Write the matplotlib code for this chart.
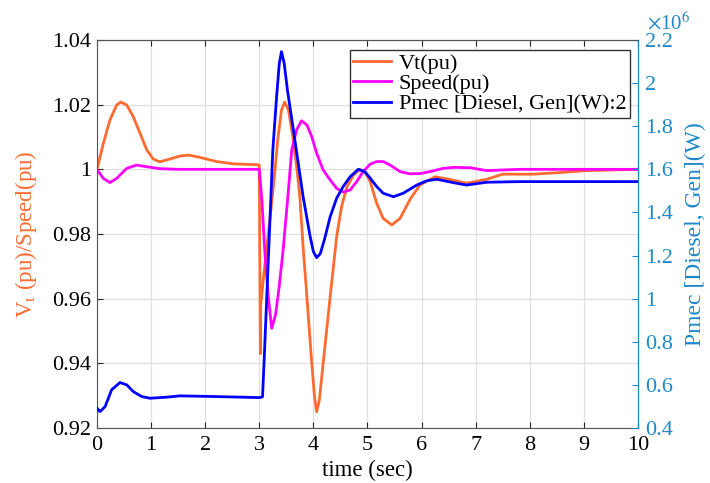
import matplotlib
matplotlib.use('Agg')
import matplotlib.pyplot as plt
from matplotlib.ticker import FuncFormatter

plt.rcParams['font.family'] = ['Liberation Serif', 'DejaVu Serif']
plt.rcParams['mathtext.fontset'] = 'stix'

# values
t_vt = [0, 0.117, 0.24, 0.364, 0.44, 0.55, 0.67, 0.795, 0.92, 1.04, 1.16, 1.35,
        1.53, 1.69, 1.9, 2.21, 2.52, 2.98, 3.0, 3.01, 3.02, 3.025, 3.05, 3.1,
        3.2, 3.28, 3.34, 3.41, 3.47, 3.54, 3.63, 3.69, 3.75, 3.81, 3.88, 3.97,
        4.02, 4.06, 4.11, 4.18, 4.31, 4.43, 4.52, 4.62, 4.74, 4.86, 4.95, 5.05,
        5.17, 5.29, 5.45, 5.6, 5.79, 5.97, 6.25, 6.52, 6.83, 7.2, 7.5, 8.06, 8.56,
        9.05, 10]
vt = [1.0, 1.008, 1.0153, 1.0199, 1.0208, 1.0199, 1.0163, 1.0112, 1.006, 1.0032,
      1.0023, 1.0032, 1.0041, 1.0044, 1.0037, 1.0024, 1.0017, 1.0014, 1.0013,
      0.970, 0.943, 0.958, 0.962, 0.970, 0.985, 0.998, 1.009, 1.0183, 1.0208,
      1.0183, 1.009, 1.0008, 0.9915, 0.976, 0.9606, 0.940, 0.9297, 0.925, 0.9286,
      0.940, 0.9606, 0.9792, 0.9884, 0.9946, 0.9982, 1.0, 0.9993, 0.9962, 0.9895,
      0.9848, 0.9828, 0.9848, 0.9908, 0.9952, 0.9977, 0.9969, 0.9957, 0.9969,
      0.9985, 0.9985, 0.999, 0.9996, 1.0]

t_sp = [0, 0.117, 0.24, 0.364, 0.55, 0.73, 0.92, 1.16, 1.5, 3.0, 3.05, 3.1, 3.17,
        3.23, 3.3, 3.37, 3.44, 3.52, 3.6, 3.69, 3.78, 3.88, 3.97, 4.06, 4.18, 4.31,
        4.43, 4.55, 4.68, 4.8, 4.92, 5.05, 5.17, 5.29, 5.42, 5.6, 5.79, 5.97, 6.16,
        6.4, 6.59, 6.9, 7.2, 7.82, 10]
speed = [1.0, 0.9972, 0.9959, 0.9972, 1.0003, 1.0013, 1.0008, 1.0002, 1.0, 1.0,
         0.990, 0.975, 0.960, 0.9508, 0.955, 0.964, 0.975, 0.990, 1.006, 1.0122,
         1.015, 1.0137, 1.0101, 1.005, 0.9998, 0.9967, 0.9941, 0.993, 0.9936,
         0.9962, 0.9993, 1.0016, 1.0024, 1.0024, 1.0013, 0.9993, 0.9986, 0.9987,
         0.9993, 1.0003, 1.0006, 1.0005, 0.9996, 1.0, 1.0]

# Pmec in units of 1e6 W
t_pm = [0, 0.055, 0.15, 0.27, 0.425, 0.55, 0.67, 0.826, 0.98, 1.29, 1.53, 2.15,
        3.01, 3.06, 3.09, 3.17, 3.25, 3.32, 3.37, 3.41, 3.46, 3.52, 3.63, 3.72,
        3.81, 3.94, 4.0, 4.06, 4.13, 4.21, 4.31, 4.43, 4.55, 4.68, 4.83, 4.95,
        5.05, 5.17, 5.29, 5.48, 5.66, 5.91, 6.1, 6.28, 6.55, 6.83, 7.2, 7.82, 10]
pmec = [0.492, 0.476, 0.499, 0.577, 0.611, 0.600, 0.569, 0.546, 0.538, 0.543,
        0.549, 0.546, 0.541, 0.545, 0.716, 1.2, 1.69, 1.937, 2.092, 2.146, 2.092,
        1.968, 1.783, 1.628, 1.473, 1.288, 1.218, 1.19, 1.21, 1.28, 1.38, 1.466,
        1.52, 1.566, 1.60, 1.589, 1.559, 1.52, 1.489, 1.473, 1.489, 1.527, 1.547,
        1.554, 1.540, 1.527, 1.540, 1.543, 1.543]

c_vt = '#FF6A30'
c_sp = '#FF00FF'
c_pm = '#0000FF'
c_ax2 = '#1E88C8'
fs = 16

fig = plt.figure(figsize=(7.1, 4.83), dpi=100)
ax = fig.add_axes([0.1366, 0.1139, 0.762, 0.8033])
ax2 = ax.twinx()

l1, = ax.plot(t_vt, vt, color=c_vt, lw=2.0, label='Vt(pu)')
l2, = ax.plot(t_sp, speed, color=c_sp, lw=2.0, label='Speed(pu)')
l3, = ax2.plot(t_pm, pmec, color=c_pm, lw=2.0, label='Pmec [Diesel, Gen](W):2')

ax.set_xlim(0, 10)
ax.set_ylim(0.92, 1.04)
ax.set_xticks(range(0, 11))
ax.set_yticks([0.92, 0.94, 0.96, 0.98, 1.0, 1.02, 1.04])
ax.yaxis.set_major_formatter(FuncFormatter(lambda v, p: f'{v:g}'))
ax2.set_ylim(0.4, 2.2)
ax2.set_yticks([0.4, 0.6, 0.8, 1.0, 1.2, 1.4, 1.6, 1.8, 2.0, 2.2])
ax2.yaxis.set_major_formatter(FuncFormatter(lambda v, p: f'{v:g}'))

ax.grid(True, color='#E0E0E0', lw=0.9)
ax.tick_params(axis='both', direction='in', labelsize=fs, length=4, top=True,
               colors='#262626', labelcolor='black')
ax.tick_params(axis='x', pad=6)
ax.tick_params(axis='y', right=False, pad=4)
ax2.tick_params(axis='y', direction='in', labelsize=fs, length=4, pad=5,
                colors=c_ax2, labelcolor=c_ax2)

for s in ['left', 'bottom', 'top']:
    ax.spines[s].set_color('#555555')
ax2.spines['right'].set_color(c_ax2)
ax2.spines['top'].set_color('#555555')
ax2.spines['left'].set_visible(False)
ax2.spines['bottom'].set_visible(False)

ax.set_xlabel('time (sec)', fontsize=fs + 0.5, labelpad=3)
ax.set_ylabel(r'V$_{\mathrm{t}}$ (pu)/Speed(pu)', fontsize=fs + 0.5, color=c_vt,
              labelpad=10)
ax2.set_ylabel('Pmec [Diesel, Gen](W)', fontsize=fs + 1, color=c_ax2, labelpad=9)
ax2.text(1.016, 1.015, r'$\times$10$^6$', transform=ax2.transAxes, fontsize=15,
         color=c_ax2, ha='left', va='bottom')

leg = ax2.legend([l1, l2, l3], [l1.get_label(), l2.get_label(), l3.get_label()],
                 loc='upper right', bbox_to_anchor=(0.985, 0.975), borderaxespad=0,
                 fontsize=fs, handlelength=1.7, handletextpad=0.35,
                 labelspacing=0.0, borderpad=0.15, fancybox=False, framealpha=1)
leg.get_frame().set_edgecolor('#333333')
leg.get_frame().set_linewidth(1.0)

fig.savefig('out.png', dpi=100)
